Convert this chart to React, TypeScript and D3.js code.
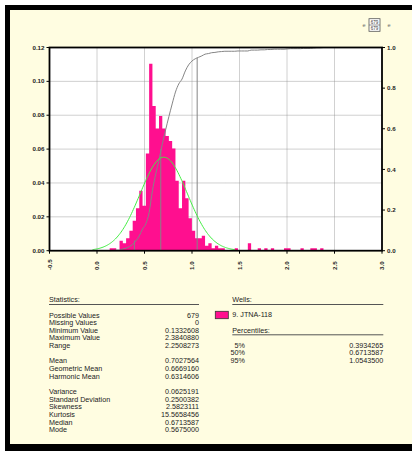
import React from "react";
import * as d3 from "d3";

// ---- data ----
const binCounts = [
  1, 1, 0, 4, 3, 5, 8, 12, 17, 24, 18, 39, 75, 58, 49, 54, 49, 46, 44, 41,
  28, 17, 28, 21, 13, 8, 5, 5, 6, 2, 3, 1, 2, 1, 1, 0, 0, 0, 1, 0,
  0, 0, 3, 0, 0, 1, 0, 1, 0, 1, 0, 0, 0, 1, 1, 0, 0, 0, 1, 0,
  0, 1, 1, 0, 1,
];
const binMin = 0.1332608;
const binMax = 2.384088;
const totalValues = 679;
const xTicks = [-0.5, 0, 0.5, 1, 1.5, 2, 2.5, 3];
const yTicks = [0, 0.02, 0.04, 0.06, 0.08, 0.1, 0.12];
const yRightTicks = [0, 0.2, 0.4, 0.6, 0.8, 1.0];
const meanValue = 0.7027564;
const sdValue = 0.2500382;
const percentileLabels = ["5%", "50%", "95%"];
const percentileFractions = [0.05, 0.5, 0.95];
const percentileValues = [0.3934265, 0.6713587, 1.05435];
const percentileTexts = ["0.3934265", "0.6713587", "1.0543500"];
const statNames1 = ["Possible Values", "Missing Values", "Minimum Value", "Maximum Value", "Range"];
const statValues1 = ["679", "0", "0.1332608", "2.3840880", "2.2508273"];
const statNames2 = ["Mean", "Geometric Mean", "Harmonic Mean"];
const statValues2 = ["0.7027564", "0.6669160", "0.6314606"];
const statNames3 = ["Variance", "Standard Deviation", "Skewness", "Kurtosis", "Median", "Mode"];
const statValues3 = ["0.0625191", "0.2500382", "2.5823111", "15.5658456", "0.6713587", "0.5675000"];
const wellName = "9. JTNA-118";

const PINK = "#ff0f8f";
const BG = "#fffde1";
const FONT = "'Liberation Sans', Arial, sans-serif";

export default function App() {
  const x = d3.scaleLinear().domain([-0.5, 3.0]).range([49.5, 382]);
  const y = d3.scaleLinear().domain([0, 0.12]).range([250.7, 47.5]);
  const yR = d3.scaleLinear().domain([0, 1]).range([250.7, 47.5]);
  const nb = binCounts.length;
  const bw = (binMax - binMin) / nb;
  const bins = binCounts.map((c, i) => ({ x0: binMin + i * bw, x1: binMin + (i + 1) * bw, f: c / totalValues }));

  // one step outline polygon for the whole histogram (no seams between bars)
  const bottom0 = y(0);
  let barPath = `M${x(binMin)},${bottom0}`;
  bins.forEach((b) => {
    barPath += `V${y(b.f)}H${x(b.x1)}`;
  });
  barPath += `V${bottom0}Z`;

  const sumCounts = d3.sum(binCounts);
  const cum = d3.cumsum(binCounts);
  const cdfPts: [number, number][] = [[binMin, 0]];
  binCounts.forEach((_, i) => cdfPts.push([binMin + (i + 1) * bw, cum[i] / sumCounts]));
  const cdfLine = d3.line<[number, number]>().x((d) => x(d[0])).y((d) => yR(d[1])).curve(d3.curveMonotoneX);

  const normPts: [number, number][] = d3
    .range(meanValue - 3 * sdValue, meanValue + 3 * sdValue + 0.005, 0.01)
    .map((v) => [v, (bw * Math.exp(-0.5 * ((v - meanValue) / sdValue) ** 2)) / (sdValue * Math.sqrt(2 * Math.PI))]);
  const normLine = d3.line<[number, number]>().x((d) => x(d[0])).y((d) => y(d[1])).curve(d3.curveBasis);

  const left = x(-0.5), right = x(3.0), top = y(0.12), bottom = y(0);
  const statRowY = (idx: number) => 315 + idx * 7.65 + 2.5;
  const statRows = [
    ...statNames1.map((n, i) => ({ n, v: statValues1[i], idx: i })),
    ...statNames2.map((n, i) => ({ n, v: statValues2[i], idx: 6 + i })),
    ...statNames3.map((n, i) => ({ n, v: statValues3[i], idx: 10 + i })),
  ];

  return (
    <svg width={412} height={451} style={{ position: "absolute", left: 0, top: 0 }} fontFamily={FONT}>
      <rect x={0} y={0} width={412} height={451} fill="#ffffff" />
      <rect x={5} y={5} width={407} height={446} fill="#000" />
      <rect x={10} y={10} width={402} height={434} fill={BG} />

      {/* top legend */}
      <g fontSize={4.5} fill="#333">
        <text x={364} y={26.5} textAnchor="middle" fill="#666" fontSize={5.5}>e</text>
        <rect x={369} y={18.7} width={11} height={12.6} fill="#fff" stroke="#555" strokeWidth={0.8} />
        <line x1={369} x2={380} y1={25} y2={25} stroke="#555" strokeWidth={0.6} />
        <text x={374.5} y={23.6} textAnchor="middle">679</text>
        <text x={374.5} y={30} textAnchor="middle">679</text>
        <text x={389} y={26.5} textAnchor="middle" fill="#666" fontSize={5.5}>e</text>
      </g>

      {/* plot area */}
      <rect x={left} y={top} width={right - left} height={bottom - top} fill="#fff" />
      <g stroke="#8a8a8a" strokeWidth={0.8} strokeDasharray="1,1">
        {xTicks.slice(1, -1).map((t) => (
          <line key={"gx" + t} x1={x(t)} x2={x(t)} y1={top} y2={bottom} />
        ))}
        {yTicks.slice(1, -1).map((t) => (
          <line key={"gy" + t} x1={left} x2={right} y1={y(t)} y2={y(t)} />
        ))}
      </g>

      <path d={barPath} fill={PINK} stroke="none" />

      {percentileValues.map((v, i) => (
        <line key={"pl" + i} x1={x(v)} x2={x(v)} y1={bottom} y2={yR(percentileFractions[i])} stroke="#858585" strokeWidth={1} />
      ))}
      <path d={cdfLine(cdfPts) || ""} fill="none" stroke="#858585" strokeWidth={1} />
      <path d={normLine(normPts) || ""} fill="none" stroke="#44ee44" strokeWidth={1} />

      {/* frame */}
      <rect x={left} y={top} width={right - left} height={bottom - top} fill="none" stroke="#000" strokeWidth={1.8} />

      {/* axes */}
      <g fontSize={6.2} fontWeight="bold" fill="#222">
        {yTicks.map((t) => (
          <g key={"ly" + t}>
            <line x1={left - 3} x2={left} y1={y(t)} y2={y(t)} stroke="#000" strokeWidth={1} />
            <text x={left - 5} y={y(t) + 2.1} textAnchor="end">{t.toFixed(2)}</text>
          </g>
        ))}
        {yRightTicks.map((t) => (
          <g key={"ry" + t}>
            <line x1={right} x2={right + 3} y1={yR(t)} y2={yR(t)} stroke="#000" strokeWidth={1} />
            <text x={right + 5} y={yR(t) + 2.1} textAnchor="start">{t.toFixed(1)}</text>
          </g>
        ))}
        {xTicks.map((t) => (
          <g key={"xt" + t}>
            <line x1={x(t)} x2={x(t)} y1={bottom} y2={bottom + 3} stroke="#000" strokeWidth={1} />
            <text transform={`translate(${x(t) + 2.2},270) rotate(-90)`} textAnchor="start">{t.toFixed(1)}</text>
          </g>
        ))}
      </g>

      {/* statistics */}
      <g fontSize={7.2} fill="#222">
        <text x={49} y={302.2}>Statistics:</text>
        <line x1={49} x2={199} y1={304.5} y2={304.5} stroke="#555" strokeWidth={1} />
        {statRows.map((r) => (
          <g key={r.n}>
            <text x={49} y={statRowY(r.idx)}>{r.n}</text>
            <text x={199} y={statRowY(r.idx)} textAnchor="end">{r.v}</text>
          </g>
        ))}

        <text x={232.3} y={302.2}>Wells:</text>
        <line x1={232.3} x2={383.3} y1={304.5} y2={304.5} stroke="#555" strokeWidth={1} />
        <rect x={215.3} y={311.3} width={13} height={7.4} fill={PINK} stroke="#333" strokeWidth={0.8} />
        <text x={232.3} y={317.2}>{wellName}</text>
        <text x={232.3} y={332.5}>Percentiles:</text>
        <line x1={232.3} x2={383.3} y1={334.8} y2={334.8} stroke="#555" strokeWidth={1} />
        {percentileLabels.map((l, i) => (
          <g key={l}>
            <text x={245} y={345 + i * 7.65 + 2.5} textAnchor="end">{l}</text>
            <text x={383.3} y={345 + i * 7.65 + 2.5} textAnchor="end">{percentileTexts[i]}</text>
          </g>
        ))}
      </g>
    </svg>
  );
}
